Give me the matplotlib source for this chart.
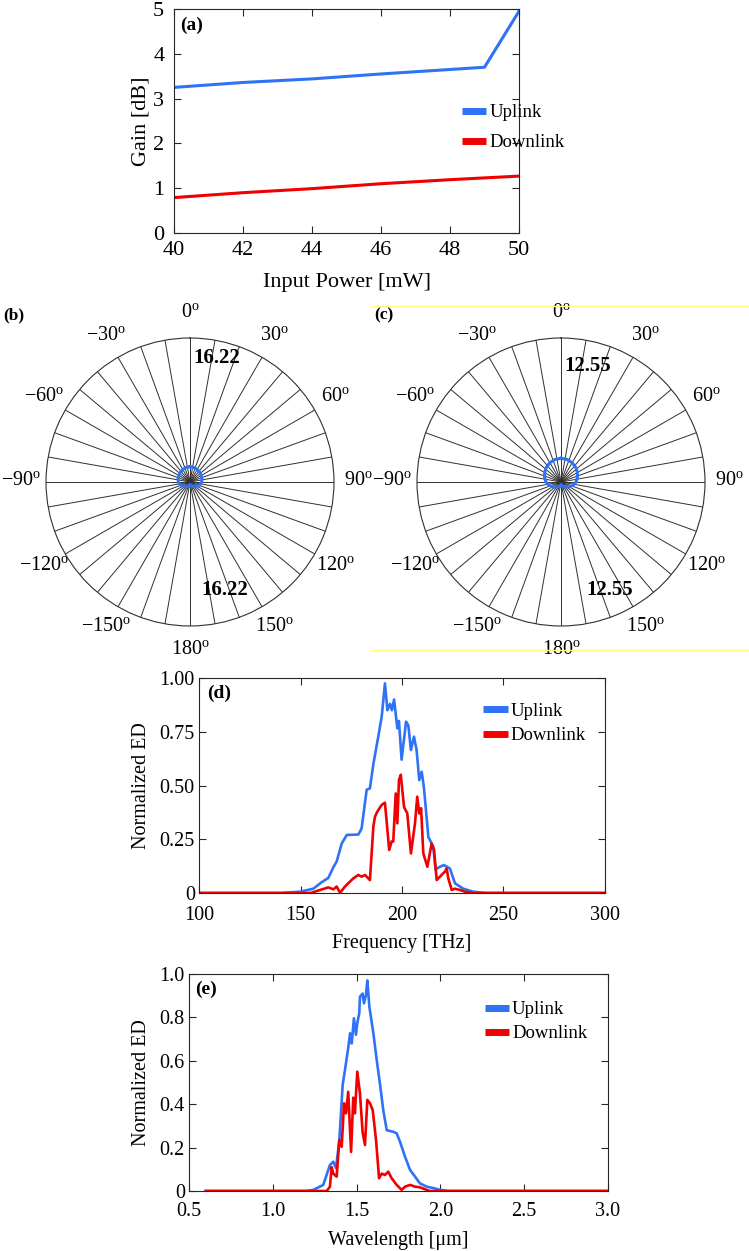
import numpy as np
import matplotlib.pyplot as plt
from matplotlib.lines import Line2D

plt.rcParams['font.family'] = ['Liberation Serif', 'DejaVu Serif']
plt.rcParams['mathtext.fontset'] = 'custom'
plt.rcParams['mathtext.rm'] = 'Liberation Serif'
plt.rcParams['mathtext.bf'] = 'Liberation Serif:bold'

BLUE = '#2f72f5'
RED = '#f00000'

# (a) gain vs input power
power = [40, 42, 44, 46, 48, 49, 50]
gain_up = [3.25, 3.36, 3.44, 3.55, 3.65, 3.70, 4.95]
gain_dn = [0.79, 0.90, 0.99, 1.10, 1.19, 1.23, 1.27]

# (b), (c) polar patterns (half pattern, mirrored)
pat_deg = [0, 15, 30, 45, 60, 75, 90, 105, 120, 135, 150, 165, 180]
pat_b = [1.72, 1.69, 1.63, 1.55, 1.46, 1.39, 1.32, 1.16, 0.93, 0.71, 0.54, 0.39, 0.26]
pat_c = [2.07, 2.03, 1.94, 1.81, 1.65, 1.48, 1.31, 1.09, 0.83, 0.59, 0.48, 0.35, 0.22]
rmax_b = 16.22
rmax_c = 12.55
polar_ticks = [0, 30, 60, 90, 120, 150, 180, -150, -120, -90, -60, -30]

# (d) energy density vs frequency
freq_up = [100, 140, 149.8, 156.3, 160.4, 163.7, 166.2, 167.8, 170.3, 172.8,
           178.5, 180.1, 182.6, 184.2, 185.9, 188.3, 190.0, 191.6, 192.8, 194.1,
           195.0, 196.1, 197.7, 198.5, 199.8, 202.0, 203.1, 204.4, 205.9, 207.2,
           208.5, 209.7, 210.8, 213.0, 215.4, 216.5, 218.7, 220.7, 223.6, 226.1,
           230.2, 235.1, 241.7, 300]
ed_up = [0, 0, 0.006, 0.02, 0.05, 0.07, 0.12, 0.146, 0.23, 0.27,
         0.272, 0.30, 0.48, 0.487, 0.60, 0.727, 0.82, 0.975, 0.85, 0.88,
         0.85, 0.90, 0.766, 0.80, 0.62, 0.797, 0.78, 0.665, 0.727, 0.665,
         0.525, 0.564, 0.49, 0.26, 0.215, 0.11, 0.122, 0.13, 0.114, 0.045,
         0.02, 0.006, 0, 0]
freq_dn = [100, 155, 159.6, 163.7, 166.2, 167.8, 169.5, 171.9, 176.0, 178.5,
           180.1, 181.8, 184.2, 185.9, 186.7, 187.8, 190.0, 191.6, 193.7, 194.9,
           195.7, 196.9, 197.7, 198.5, 199.4, 201.0, 202.6, 204.4, 206.4, 207.5,
           208.5, 209.4, 210.5, 212.5, 214.6, 215.8, 217.1, 218.7, 221.2, 222.0,
           222.8, 224.5, 226.1, 228.6, 231.0, 235.0, 300]
ed_dn = [0, 0, 0.014, 0.026, 0.017, 0.03, 0.001, 0.03, 0.068, 0.084,
         0.076, 0.084, 0.06, 0.31, 0.355, 0.378, 0.41, 0.42, 0.20, 0.24,
         0.24, 0.463, 0.324, 0.525, 0.55, 0.40, 0.37, 0.184, 0.324, 0.448,
         0.37, 0.394, 0.184, 0.122, 0.23, 0.20, 0.06, 0.076, 0.10, 0.114,
         0.068, 0.014, 0.02, 0.014, 0.006, 0, 0]

# (e) energy density vs wavelength
wl_up = [0.6, 1.20, 1.242, 1.301, 1.341, 1.361, 1.377, 1.397, 1.417, 1.431,
         1.450, 1.461, 1.471, 1.484, 1.496, 1.504, 1.516, 1.520, 1.536, 1.544,
         1.556, 1.564, 1.576, 1.600, 1.620, 1.640, 1.659, 1.680, 1.719, 1.739,
         1.759, 1.789, 1.819, 1.849, 1.878, 1.918, 1.956, 1.998, 2.05, 3.0]
edw_up = [0, 0, 0.005, 0.028, 0.12, 0.135, 0.105, 0.235, 0.49, 0.56,
          0.66, 0.727, 0.68, 0.796, 0.72, 0.773, 0.82, 0.895, 0.91, 0.865,
          0.903, 0.97, 0.85, 0.727, 0.604, 0.49, 0.373, 0.28, 0.273, 0.266,
          0.227, 0.158, 0.097, 0.066, 0.035, 0.02, 0.014, 0.005, 0, 0]
wl_dn = [0.6, 1.30, 1.322, 1.341, 1.351, 1.361, 1.381, 1.397, 1.411, 1.425,
         1.437, 1.450, 1.467, 1.480, 1.490, 1.504, 1.520, 1.536, 1.550, 1.564,
         1.580, 1.596, 1.616, 1.634, 1.650, 1.669, 1.689, 1.709, 1.739, 1.769,
         1.789, 1.819, 1.849, 1.878, 1.918, 1.938, 3.0]
edw_dn = [0, 0, 0, 0.02, 0.11, 0.08, 0.066, 0.235, 0.204, 0.404,
          0.358, 0.457, 0.18, 0.43, 0.358, 0.55, 0.45, 0.27, 0.212, 0.42,
          0.404, 0.373, 0.235, 0.059, 0.08, 0.074, 0.089, 0.059, 0.028, 0.005,
          0.02, 0.028, 0.02, 0.017, 0.005, 0, 0]

W, H = 749, 1251
fig = plt.figure(figsize=(W / 100, H / 100), dpi=100)


def rect(l, t, r, b):
    return [l / W, 1 - b / H, (r - l) / W, (b - t) / H]


def style(ax, size, xpad, ypad=3):
    ax.tick_params(direction='in', top=True, right=True, length=5, width=0.8,
                   colors='#262626', labelcolor='black', labelsize=size)
    ax.tick_params(axis='x', pad=xpad)
    ax.tick_params(axis='y', pad=ypad)
    for s in ax.spines.values():
        s.set_color('#262626')
        s.set_linewidth(0.8)


def add_legend(ax, x, y, spacing):
    leg = ax.legend(loc='upper left', bbox_to_anchor=(x, y), frameon=False,
                    fontsize=13.5, handlelength=1.3, handletextpad=0.15,
                    labelspacing=spacing, borderpad=0, borderaxespad=0)
    for line in leg.get_lines():
        line.set_linewidth(5)
        line.set_solid_capstyle('butt')


# ---- (a)
ax = fig.add_axes(rect(174, 9, 519, 233))
ax.plot(power, gain_up, color=BLUE, lw=2.2, label='Uplink')
ax.plot(power, gain_dn, color=RED, lw=2.2, label='Downlink')
ax.set_xlim(40, 50)
ax.set_ylim(0, 5)
ax.set_xticks(range(40, 51, 2))
ax.set_yticks(range(0, 6))
style(ax, 16, 5.5, 7)
ax.set_xlabel('Input Power [mW]', fontsize=16, labelpad=9.5)
ax.set_ylabel('Gain [dB]', fontsize=16, labelpad=2)
ax.text(0.018, 0.925, '(a)', transform=ax.transAxes, fontsize=14,
        fontweight='bold', va='center')
add_legend(ax, 0.835, 0.575, 0.68)


# ---- (b), (c)
def polar_panel(box, rmax, pattern, top_pos, bot_pos, tag, tag_x):
    ax = fig.add_axes(box, projection='polar')
    ax.set_theta_zero_location('N')
    ax.set_theta_direction(-1)
    ax.set_ylim(0, rmax)
    ax.set_yticks([])
    ax.set_thetagrids(np.arange(0, 360, 10), labels=[''] * 36)
    ax.xaxis.grid(True, color='#303030', lw=0.7)
    ax.tick_params(axis='x', length=0)
    ax.spines['polar'].set_linewidth(0.8)
    ax.spines['polar'].set_color('#303030')
    deg = np.array(pat_deg + [360 - d for d in pat_deg[::-1]])
    rr = np.array(pattern + pattern[::-1])
    ax.plot(np.deg2rad(deg), rr, color=BLUE, lw=2.2)
    for a in polar_ticks:
        ax.text(np.deg2rad(a), 1.17 * rmax, r'$%d^{\rm o}$' % a,
                fontsize=14.5, ha='center', va='center')
    val = '%.2f' % rmax
    ax.text(np.deg2rad(top_pos[0]), top_pos[1] * rmax, val, fontsize=15,
            fontweight='bold', ha='center', va='center')
    ax.text(np.deg2rad(bot_pos[0]), bot_pos[1] * rmax, val, fontsize=15,
            fontweight='bold', ha='center', va='center')
    fig.text(tag_x / W, 1 - 315 / H, tag, fontsize=12.5, fontweight='bold',
             va='center')


polar_panel(rect(46, 338, 334, 626), rmax_b, pat_b, (12.3, 0.88), (162, 0.79),
            '(b)', 3)
polar_panel(rect(417, 338, 705, 626), rmax_c, pat_c, (13, 0.83), (155.6, 0.82),
            '(c)', 374)

# yellow frame remnants around (c)
fig.add_artist(Line2D([372 / W, 1], [1 - 306 / H] * 2, color='#ffff80', lw=1))
fig.add_artist(Line2D([372 / W, 1], [1 - 650 / H] * 2, color='#ffff80', lw=1))

# ---- (d)
ax = fig.add_axes(rect(199, 678, 605, 893))
ax.plot(freq_up, ed_up, color=BLUE, lw=1.9, label='Uplink')
ax.plot(freq_dn, ed_dn, color=RED, lw=1.9, label='Downlink')
ax.set_xlim(100, 300)
ax.set_ylim(0, 1)
ax.set_xticks([100, 150, 200, 250, 300])
ax.set_yticks([0, 0.25, 0.5, 0.75, 1.0])
ax.set_yticklabels(['0', '0.25', '0.50', '0.75', '1.00'])
style(ax, 14.5, 9)
ax.set_xlabel('Frequency [THz]', fontsize=14.5, labelpad=7)
ax.set_ylabel('Normalized ED', fontsize=14.5, labelpad=6)
ax.text(0.019, 0.93, '(d)', transform=ax.transAxes, fontsize=14,
        fontweight='bold', va='center')
add_legend(ax, 0.70, 0.885, 0.38)

# ---- (e)
ax = fig.add_axes(rect(189, 974, 608, 1191))
ax.plot(wl_up, edw_up, color=BLUE, lw=1.9, label='Uplink')
ax.plot(wl_dn, edw_dn, color=RED, lw=1.9, label='Downlink')
ax.set_xlim(0.5, 3.0)
ax.set_ylim(0, 1)
ax.set_xticks([0.5, 1.0, 1.5, 2.0, 2.5, 3.0])
ax.set_xticklabels(['0.5', '1.0', '1.5', '2.0', '2.5', '3.0'])
ax.set_yticks([0, 0.2, 0.4, 0.6, 0.8, 1.0])
ax.set_yticklabels(['0', '0.2', '0.4', '0.6', '0.8', '1.0'])
style(ax, 14.5, 8)
ax.set_xlabel('Wavelength [\u03bcm]', fontsize=14.5, labelpad=7)
ax.set_ylabel('Normalized ED', fontsize=14.5, labelpad=6)
ax.text(0.014, 0.93, '(e)', transform=ax.transAxes, fontsize=14,
        fontweight='bold', va='center')
add_legend(ax, 0.706, 0.875, 0.38)

fig.savefig('out.png', dpi=100)
